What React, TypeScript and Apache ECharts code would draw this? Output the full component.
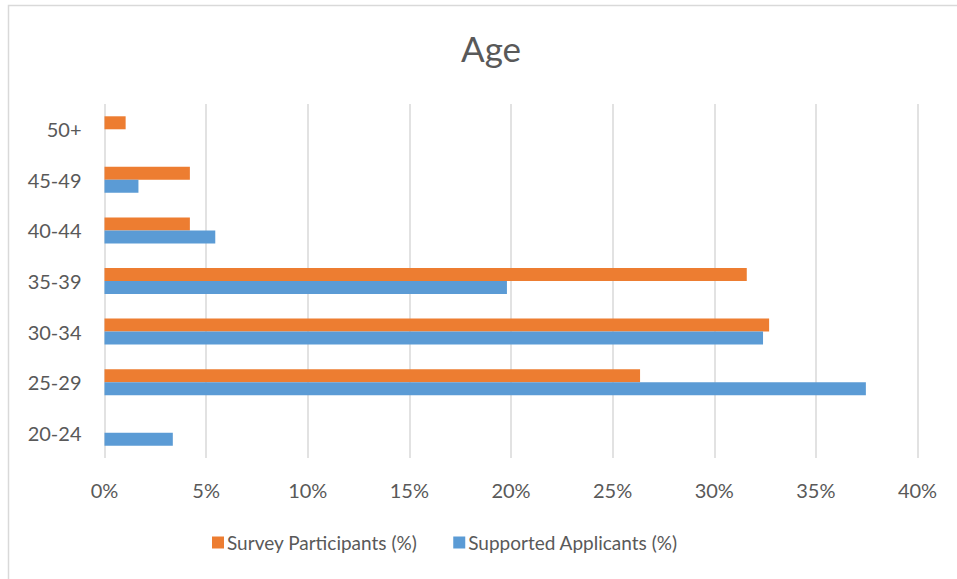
import React, { useEffect, useRef } from "react";
import * as echarts from "echarts";

const categories = ["20-24", "25-29", "30-34", "35-39", "40-44", "45-49", "50+"];
const surveyParticipants = [0, 26.35, 32.7, 31.6, 4.2, 4.2, 1.04];
const supportedApplicants = [3.36, 37.46, 32.4, 19.8, 5.45, 1.67, 0];
const seriesNames = ["Survey Participants (%)", "Supported Applicants (%)"];
const xTicks = { min: 0, max: 40, interval: 5 };

const FONT = "Lato, 'Open Sans', sans-serif";
const TEXT = "#595959";

export default function App() {
  const ref = useRef<HTMLDivElement>(null);
  useEffect(() => {
    if (!ref.current) return;
    const chart = echarts.init(ref.current, undefined, { renderer: "svg" });
    chart.setOption({
      animation: false,
      backgroundColor: "#ffffff",
      textStyle: { fontFamily: FONT, color: TEXT },
      title: {
        text: "Age",
        left: 456,
        top: 25,
        textStyle: { fontFamily: FONT, fontSize: 35, fontWeight: "normal", color: TEXT },
      },
      graphic: [
        {
          type: "rect",
          shape: { x: 8.5, y: 5.5, width: 960, height: 590 },
          style: { fill: "none", stroke: "#D9D9D9", lineWidth: 1.5 },
          silent: true,
        },
      ],
      legend: {
        data: seriesNames,
        bottom: 22,
        left: 207,
        itemWidth: 12,
        itemHeight: 12,
        itemGap: 36,
        icon: "rect",
        textStyle: { fontFamily: FONT, fontSize: 19, color: TEXT, padding: [0, 0, 0, -2] },
      },
      grid: { left: 104.5, right: 39.5, top: 104, bottom: 121, containLabel: false },
      xAxis: {
        type: "value",
        min: xTicks.min,
        max: xTicks.max,
        interval: xTicks.interval,
        axisLine: { show: false },
        axisTick: { show: false },
        splitLine: { lineStyle: { color: "#D9D9D9", width: 1.5 } },
        axisLabel: {
          formatter: "{value}%",
          fontFamily: FONT,
          fontSize: 20,
          color: TEXT,
          margin: 22,
        },
      },
      yAxis: {
        type: "category",
        data: categories,
        axisLine: { show: false },
        axisTick: { show: false },
        axisLabel: { fontFamily: FONT, fontSize: 20, color: TEXT, margin: 23 },
      },
      series: [
        {
          name: seriesNames[0],
          type: "bar",
          data: surveyParticipants,
          barWidth: 13,
          barGap: "0%",
          itemStyle: { color: "#ED7D31" },
        },
        {
          name: seriesNames[1],
          type: "bar",
          data: supportedApplicants,
          barWidth: 13,
          barGap: "0%",
          itemStyle: { color: "#5B9BD5" },
        },
      ],
    });
    return () => chart.dispose();
  }, []);
  return (
    <div
      ref={ref}
      style={{ position: "fixed", left: 0, top: 0, width: 957, height: 579 }}
    />
  );
}
